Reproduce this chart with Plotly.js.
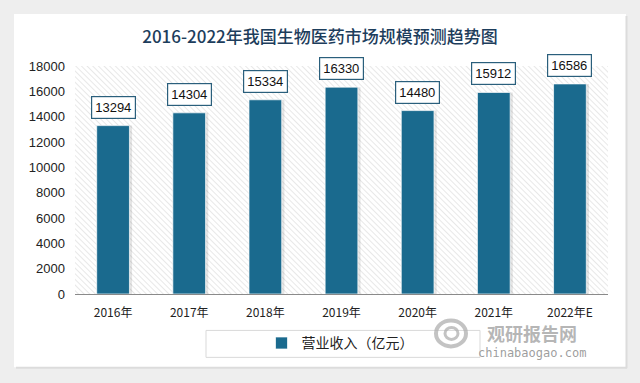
<!DOCTYPE html>
<html>
<head>
<meta charset="utf-8">
<script src="https://cdn.plot.ly/plotly-3.0.1.min.js"></script>
<style>html,body{margin:0;padding:0;background:#eeeeee;}#chart{width:640px;height:383px;}</style>
</head>
<body>
<div id="chart"></div>
<script>
var categories = ["2016年", "2017年", "2018年", "2019年", "2020年", "2021年", "2022年E"];
var revenue = [13294, 14304, 15334, 16330, 14480, 15912, 16586];
var seriesName = "营业收入（亿元）";
var yTicks = [0, 2000, 4000, 6000, 8000, 10000, 12000, 14000, 16000, 18000];

var W = 640, H = 383;
var M = {l: 75, r: 32, t: 66, b: 88.5};
var pw = W - M.l - M.r, ph = H - M.t - M.b;
function px2x(px) { return (px - M.l) / pw; }
function py2y(py) { return (H - M.b - py) / ph; }

var barW = 0.43;
var hatch = 'data:image/svg+xml;utf8,' + encodeURIComponent(
  '<svg xmlns="http://www.w3.org/2000/svg" width="' + Math.round(pw) + '" height="' + Math.round(ph) + '">' +
  '<defs><pattern id="p" width="4" height="4" patternUnits="userSpaceOnUse" patternTransform="rotate(-45)">' +
  '<rect width="4" height="4" fill="#ffffff"/><line x1="0" y1="0" x2="0" y2="4" stroke="#dedede" stroke-width="1.4"/></pattern></defs>' +
  '<rect width="100%" height="100%" fill="url(#p)"/></svg>');

var shadow = {
  type: 'bar', x: categories, y: revenue, width: barW, offset: -barW / 2 + 0.035,
  marker: {color: 'rgba(0,0,0,0.10)'}, showlegend: false, hoverinfo: 'skip'
};
var bars = {
  type: 'bar', x: categories, y: revenue, name: seriesName, width: barW, offset: -barW / 2,
  marker: {color: '#1a6a8e', line: {color: 'rgba(255,255,255,0.7)', width: 1}}
};

var annotations = categories.map(function (c, i) {
  return {
    x: c, y: revenue[i], xref: 'x', yref: 'y', text: String(revenue[i]),
    showarrow: false, xanchor: 'center', yanchor: 'bottom', yshift: 7,
    font: {family: 'Liberation Sans, Arial, sans-serif', size: 13, color: '#111'},
    bgcolor: '#ffffff', bordercolor: '#2a5f7c', borderwidth: 1.2, borderpad: 3
  };
});
annotations.push({
  xref: 'paper', yref: 'paper', x: px2x(532), y: py2y(334), xanchor: 'center', yanchor: 'middle',
  text: '<b>观研报告网</b>',
  showarrow: false, borderpad: 0, font: {family: 'Noto Sans CJK SC', size: 18, color: 'rgba(150,150,150,0.7)'}
});
annotations.push({
  xref: 'paper', yref: 'paper', x: px2x(532), y: py2y(354), xanchor: 'center', yanchor: 'middle',
  text: 'chinabaogao.com',
  showarrow: false, borderpad: 0, font: {family: 'DejaVu Sans Mono, monospace', size: 12, color: 'rgba(140,140,140,0.85)'}
});

var frame = '#eeeeee';
var layout = {
  width: W, height: H,
  margin: M,
  paper_bgcolor: '#ffffff',
  plot_bgcolor: 'rgba(0,0,0,0)',
  barmode: 'overlay',
  title: {
    text: '2016-2022年我国生物医药市场规模预测趋势图',
    x: 0.5, xref: 'container', xanchor: 'center', y: 1 - 37 / H, yanchor: 'middle',
    font: {family: 'Noto Sans CJK SC', size: 17, color: '#1d3d5c', weight: 500}
  },
  xaxis: {
    type: 'category', range: [-0.5, categories.length - 0.5],
    showgrid: false, showline: true, linecolor: '#8a8a8a', linewidth: 1,
    ticks: '', ticklabelstandoff: 8,
    tickfont: {family: 'Noto Sans CJK SC', size: 12, color: '#222'},
    fixedrange: true
  },
  yaxis: {
    range: [0, 18000], tickvals: yTicks, ticktext: yTicks.map(String),
    showgrid: false, zeroline: false, showline: false, ticks: '',
    ticklabelstandoff: 9,
    tickfont: {family: 'Liberation Sans, Arial, sans-serif', size: 13, color: '#222'},
    fixedrange: true
  },
  legend: {
    orientation: 'h', x: px2x(340), xanchor: 'center', y: py2y(344), yanchor: 'middle',
    bgcolor: 'rgba(0,0,0,0)', borderwidth: 0,
    font: {family: 'Noto Sans CJK SC', size: 14, color: '#222'}
  },
  images: [{
    source: hatch, xref: 'paper', yref: 'paper', x: 0, y: 1, sizex: 1, sizey: 1,
    xanchor: 'left', yanchor: 'top', sizing: 'stretch', layer: 'below'
  }],
  shapes: [
    {type: 'rect', xref: 'paper', yref: 'paper', x0: px2x(-5), x1: px2x(14), y0: py2y(390), y1: py2y(-5),
     fillcolor: frame, line: {width: 0}, layer: 'above'},
    {type: 'rect', xref: 'paper', yref: 'paper', x0: px2x(626), x1: px2x(645), y0: py2y(390), y1: py2y(-5),
     fillcolor: frame, line: {width: 0}, layer: 'above'},
    {type: 'rect', xref: 'paper', yref: 'paper', x0: px2x(-5), x1: px2x(645), y0: py2y(14), y1: py2y(-5),
     fillcolor: frame, line: {width: 0}, layer: 'above'},
    {type: 'rect', xref: 'paper', yref: 'paper', x0: px2x(-5), x1: px2x(645), y0: py2y(390), y1: py2y(368),
     fillcolor: frame, line: {width: 0}, layer: 'above'},
    {type: 'line', xref: 'paper', yref: 'paper', x0: px2x(626.5), x1: px2x(626.5), y0: py2y(369), y1: py2y(16),
     line: {color: '#dcdcdc', width: 2}, layer: 'above'},
    {type: 'line', xref: 'paper', yref: 'paper', x0: px2x(16), x1: px2x(627), y0: py2y(368.5), y1: py2y(368.5),
     line: {color: '#dcdcdc', width: 2}, layer: 'above'},
    {type: 'rect', xref: 'paper', yref: 'paper', x0: px2x(206), x1: px2x(480), y0: py2y(358), y1: py2y(331),
     fillcolor: 'rgba(0,0,0,0)', line: {color: '#d9d9d9', width: 1}, layer: 'above'},
    {type: 'circle', xref: 'paper', yref: 'paper', x0: px2x(436), x1: px2x(466), y0: py2y(347), y1: py2y(321),
     fillcolor: 'rgba(0,0,0,0)', line: {color: 'rgba(170,170,170,0.7)', width: 4}, layer: 'above'},
    {type: 'circle', xref: 'paper', yref: 'paper', x0: px2x(445), x1: px2x(458), y0: py2y(340), y1: py2y(328),
     fillcolor: 'rgba(0,0,0,0)', line: {color: 'rgba(170,170,170,0.7)', width: 3}, layer: 'above'}
  ],
  annotations: annotations,
  showlegend: true
};

Plotly.newPlot('chart', [shadow, bars], layout, {displayModeBar: false, staticPlot: true});
</script>
</body>
</html>
